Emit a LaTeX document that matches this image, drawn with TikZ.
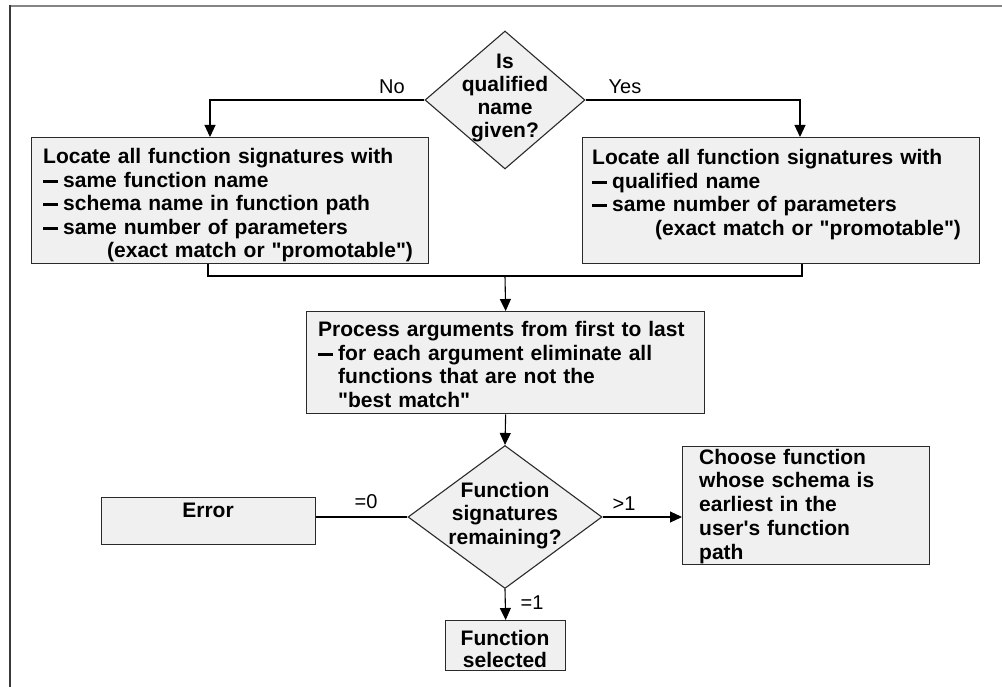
\documentclass[tikz,border=0pt]{standalone}
\usepackage{fontspec}
\newfontfamily\arial{Liberation Sans}
\usetikzlibrary{shapes.geometric,arrows.meta,calc}
\definecolor{boxfill}{HTML}{F0F0F0}
\definecolor{boxline}{HTML}{2A2A2A}
\definecolor{frametop}{HTML}{858585}
\definecolor{frameleft}{HTML}{3A3A3A}
\newcommand\bardash{\rule[4.6pt]{15pt}{3pt}\hspace{5pt}}
\begin{document}
\begin{tikzpicture}[x=1pt,y=-1pt,
  box/.style={draw=boxline, line width=1.3pt, fill=boxfill, rectangle, inner sep=0pt, anchor=north west},
  dia/.style={draw=boxline, line width=1.1pt, fill=boxfill, diamond, inner sep=0pt},
  btxt/.style={font=\arial\bfseries\fontsize{21}{23.5}\selectfont, inner sep=0pt, text width=400pt, align=left, anchor=base west},
  ctxt/.style={font=\arial\bfseries\fontsize{21}{23.3}\selectfont, inner sep=0pt, align=center},
  lbl/.style={font=\arial\fontsize{20}{23}\selectfont, inner sep=0pt},
  conn/.style={draw=black, line width=1.1pt},
  arr/.style={conn, -{Triangle[length=12pt,width=11pt]}}
]
\useasboundingbox (0,0) rectangle (1002,687);
% frame
\draw[frametop, line width=2pt] (9,6) -- (1002,6);
\draw[frameleft, line width=2pt] (10,5) -- (10,687);

% top decision
\node[dia, minimum width=160, minimum height=138] (D1) at (505,100) {};
\node[ctxt] (D1t) at (505,98) {Is\\qualified\\name\\given?};

% left box
\node[box, minimum width=397, minimum height=126] (L) at (31,137) {};
\node[btxt] (Lt) at (43,164) {Locate all function signatures with\\
\bardash same function name\\
\bardash schema name in function path\\
\bardash same number of parameters\\
\hspace*{64pt}(exact match or "promotable")};

% right box
\node[box, minimum width=397, minimum height=126] (R) at (582,137) {};
\node[btxt] (Rt) at (592,165) {Locate all function signatures with\\
\bardash qualified name\\
\bardash same number of parameters\\
\hspace*{63pt}(exact match or "promotable")};

% process box
\node[box, minimum width=398, minimum height=102] (P) at (306,311) {};
\node[btxt] (Pt) at (318,337) {Process arguments from first to last\\
\bardash for each argument eliminate all\\
\hspace*{20pt}functions that are not the\\
\hspace*{20pt}"best match"};

% second decision
\node[dia, minimum width=194, minimum height=143] (D2) at (505,517) {};
\node[ctxt] (D2t) at (505,515.5) {Function\\signatures\\remaining?};

% error box
\node[box, minimum width=214, minimum height=47] (E) at (101,497) {};
\node[ctxt, anchor=base] (Et) at (208,517.5) {Error};

% choose box
\node[box, minimum width=247, minimum height=118] (C) at (682,446) {};
\node[btxt, font=\arial\bfseries\fontsize{21}{23.8}\selectfont] (Ct) at (699,464) {Choose function\\
whose schema is\\
earliest in the\\
user's function\\
path};

% selected box
\node[box, minimum width=120, minimum height=50] (S) at (445,620) {};
\node[ctxt, font=\arial\bfseries\fontsize{21}{22}\selectfont] (St) at (505,649) {Function\\selected};

% connectors
\coordinate (J) at (505,276);
\draw[arr] (D1.west) -| ($(L.north west)+(179,0)$);
\draw[arr] (D1.east) -| ($(R.north west)+(218,0)$);
\draw[conn] ($(L.south west)+(177,0)$) |- (J) -| ($(R.south west)+(220,0)$);
\draw[arr] (J) -- (P.north);
\draw[arr] (P.south) -- (D2.north);
\draw[arr] (D2.south) -- (S.north);
\draw[conn] (D2.west) -- (D2.west -| E.east);
\draw[arr] (D2.east) -- (D2.east -| C.west);

% labels
\node[lbl] (lno) at (392,87) {No};
\node[lbl] (lyes) at (625,87) {Yes};
\node[lbl] (l0) at (366,502) {=0};
\node[lbl] (lg1) at (624,504) {>1};
\node[lbl] (l1) at (532,603) {=1};
\end{tikzpicture}
\end{document}
